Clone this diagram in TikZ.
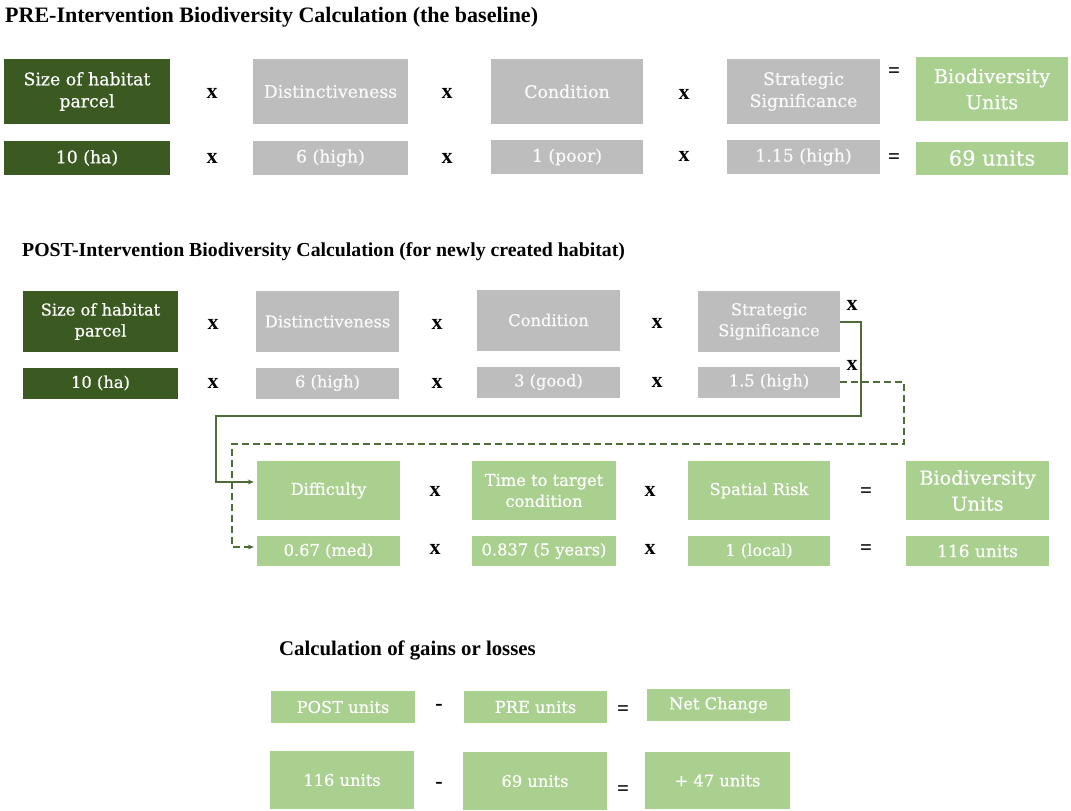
\documentclass[tikz,border=0pt]{standalone}
\usepackage{fontspec}
\setmainfont{Liberation Serif}
\newfontfamily\geo[FakeBold=0.6]{DejaVu Serif}
\usetikzlibrary{arrows.meta}
\definecolor{dkgreen}{HTML}{3B5A22}
\definecolor{greybox}{HTML}{BDBDBD}
\definecolor{ltgreen}{HTML}{A9D08E}
\definecolor{linegreen}{HTML}{4F6B37}
\begin{document}
\begin{tikzpicture}[x=1pt,y=-1pt,
  bx/.style={rectangle, inner sep=0pt, align=center, text=white},
  dk/.style={bx, fill=dkgreen},
  gr/.style={bx, fill=greybox, text=white!96!gray},
  lt/.style={bx, fill=ltgreen},
  op/.style={font=\bfseries\fontsize{22}{22}\selectfont, inner sep=0pt},
  eq/.style={font=\bfseries\fontsize{21}{21}\selectfont, inner sep=0pt},
  ttl/.style={font=\bfseries\fontsize{20}{24}\selectfont, anchor=west, inner sep=0pt},
  fA/.style={font=\geo\fontsize{17.3}{22}\selectfont},
  fB/.style={font=\geo\fontsize{19.2}{26}\selectfont},
  fC/.style={font=\geo\fontsize{16.3}{21}\selectfont},
  fD/.style={font=\geo\fontsize{17}{22}\selectfont},
  fE/.style={font=\geo\fontsize{21}{24}\selectfont},
  conn/.style={draw=linegreen, line width=2pt},
  tip/.style={-{Stealth[length=6pt,width=5pt]}, shorten >=3pt}
]
\useasboundingbox (0,0) rectangle (1071,811);

% ---------- PRE ----------
\node[ttl,font=\bfseries\fontsize{22}{26}\selectfont] (t1) at (5,17) {PRE-Intervention Biodiversity Calculation (the baseline)};

\node[dk,fA,minimum width=166pt,minimum height=65pt] (a1) at (87,91.5) {Size of habitat\\parcel};
\node[gr,fA,minimum width=155pt,minimum height=65pt] (a2) at (330.5,91.5) {Distinctiveness};
\node[gr,fA,minimum width=152pt,minimum height=65pt] (a3) at (567,91.5) {Condition};
\node[gr,fA,minimum width=153pt,minimum height=65pt] (a4) at (803.5,91.5) {Strategic\\Significance};
\node[lt,fB,minimum width=152pt,minimum height=64pt] (a5) at (992,89) {Biodiversity\\Units};

\node[dk,fA,minimum width=166pt,minimum height=34pt] (b1) at (87,158) {10 (ha)};
\node[gr,fA,minimum width=155pt,minimum height=34pt] (b2) at (330.5,158) {6 (high)};
\node[gr,fA,minimum width=152pt,minimum height=34pt] (b3) at (567,157) {1 (poor)};
\node[gr,fA,minimum width=153pt,minimum height=34pt] (b4) at (803.5,157) {1.15 (high)};
\node[lt,fE,minimum width=152pt,minimum height=33pt] (b5) at (992,158) {69 units};

\node[op] (oa1) at (212,93) {x};
\node[op] (oa2) at (447,93) {x};
\node[op] (oa3) at (684,94) {x};
\node[eq] (oa4) at (894,73) {=};
\node[op] (ob1) at (212,158) {x};
\node[op] (ob2) at (447,158) {x};
\node[op] (ob3) at (684,156) {x};
\node[eq] (ob4) at (894,159) {=};

% ---------- POST ----------
\node[ttl,font=\bfseries\fontsize{19.8}{24}\selectfont] (t2) at (22,252) {POST-Intervention Biodiversity Calculation (for newly created habitat)};

\node[dk,fC,minimum width=155pt,minimum height=61pt] (c1) at (100.5,321.5) {Size of habitat\\parcel};
\node[gr,fC,minimum width=143pt,minimum height=61pt] (c2) at (327.5,321.5) {Distinctiveness};
\node[gr,fC,minimum width=143pt,minimum height=61pt] (c3) at (548.5,320) {Condition};
\node[gr,fC,minimum width=142pt,minimum height=61pt] (c4) at (769,321.5) {Strategic\\Significance};

\node[dk,fC,minimum width=155pt,minimum height=31pt] (d1) at (100.5,383) {10 (ha)};
\node[gr,fC,minimum width=143pt,minimum height=31pt] (d2) at (327.5,383) {6 (high)};
\node[gr,fC,minimum width=143pt,minimum height=31pt] (d3) at (548.5,382) {3 (good)};
\node[gr,fC,minimum width=142pt,minimum height=31pt] (d4) at (769,382) {1.5 (high)};

\node[op] (oc1) at (213,324) {x};
\node[op] (oc2) at (437,324) {x};
\node[op] (oc3) at (657,323) {x};
\node[op] (oc4) at (852,305) {x};
\node[op] (od1) at (213,383) {x};
\node[op] (od2) at (437,383) {x};
\node[op] (od3) at (657,382) {x};
\node[op] (od4) at (852,365) {x};

\node[lt,fC,minimum width=143pt,minimum height=59pt] (e1) at (328.5,490.5) {Difficulty};
\node[lt,fC,minimum width=144pt,minimum height=59pt] (e2) at (544,490.5) {Time to target\\condition};
\node[lt,fC,minimum width=142pt,minimum height=59pt] (e3) at (759,490.5) {Spatial Risk};
\node[lt,fB,minimum width=143pt,minimum height=59pt] (e4) at (977.5,490.5) {Biodiversity\\Units};

\node[lt,fC,minimum width=143pt,minimum height=30pt] (f1) at (328.5,551) {0.67 (med)};
\node[lt,fC,minimum width=144pt,minimum height=30pt] (f2) at (544,551) {0.837 (5 years)};
\node[lt,fC,minimum width=142pt,minimum height=30pt] (f3) at (759,551) {1 (local)};
\node[lt,fD,minimum width=143pt,minimum height=30pt] (f4) at (977.5,551) {116 units};

\node[op] (oe1) at (435,491) {x};
\node[op] (oe2) at (650,491) {x};
\node[eq] (oe3) at (866,493) {=};
\node[op] (of1) at (435,549) {x};
\node[op] (of2) at (650,549) {x};
\node[eq] (of3) at (866,550) {=};

% connectors
\coordinate (sA) at (861,416);
\coordinate (sB) at (216,482);
\draw[conn,tip] (c4.east) -| (sA) -| (sB) -- (e1.west |- sB);
\coordinate (dA) at (904,444);
\coordinate (dB) at (232,547);
\draw[conn,tip,dash pattern=on 7pt off 4pt] (d4.east) -| (dA) -| (dB) -- (f1.west |- dB);

% ---------- GAINS ----------
\node[ttl,font=\bfseries\fontsize{20.8}{24}\selectfont] (t3) at (279,650) {Calculation of gains or losses};

\node[lt,fC,minimum width=144pt,minimum height=32pt] (g1) at (343,707) {POST units};
\node[lt,fC,minimum width=143pt,minimum height=32pt] (g2) at (535.5,707) {PRE units};
\node[lt,fC,minimum width=143pt,minimum height=32pt] (g3) at (718.5,705) {Net Change};

\node[lt,fC,minimum width=144pt,minimum height=58pt] (h1) at (342,780) {116 units};
\node[lt,fC,minimum width=144pt,minimum height=58pt] (h2) at (535,781) {69 units};
\node[lt,fC,minimum width=145pt,minimum height=57pt] (h3) at (717.5,780.5) {+ 47 units};

\node[op] (og1) at (439,707) {-};
\node[eq] (og2) at (623,711) {=};
\node[op] (oh1) at (439,785) {-};
\node[eq] (oh2) at (623,791) {=};
\end{tikzpicture}
\end{document}
